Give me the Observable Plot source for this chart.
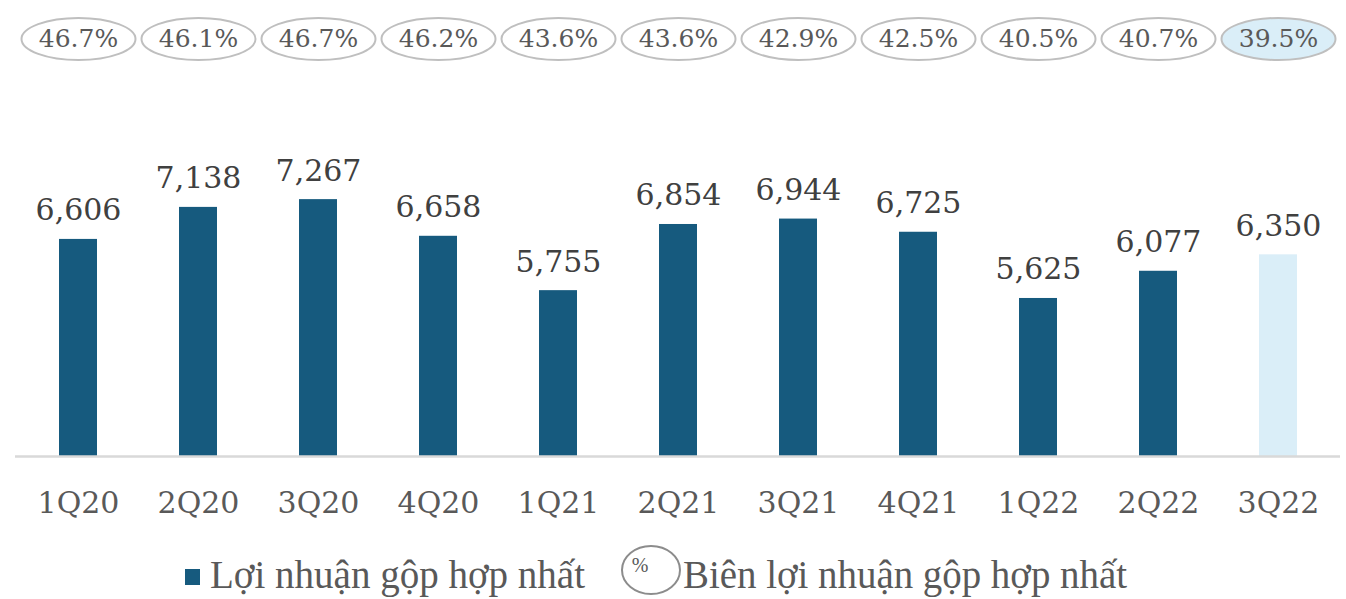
<!DOCTYPE html>
<html>
<head>
<meta charset="utf-8">
<script src="https://cdn.jsdelivr.net/npm/d3@7"></script>
<script src="https://cdn.jsdelivr.net/npm/@observablehq/plot@0.6"></script>
<style>
  html, body { margin: 0; padding: 0; background: #fff; }
  #chart svg { display: block; }
</style>
</head>
<body>
<div id="chart"></div>
<script>
const quarters = ["1Q20","2Q20","3Q20","4Q20","1Q21","2Q21","3Q21","4Q21","1Q22","2Q22","3Q22"];
const grossProfit = [6606, 7138, 7267, 6658, 5755, 6854, 6944, 6725, 5625, 6077, 6350];
const grossMargin = [46.7, 46.1, 46.7, 46.2, 43.6, 43.6, 42.9, 42.5, 40.5, 40.7, 39.5];
const legendLabels = ["Lợi nhuận gộp hợp nhất", "Biên lợi nhuận gộp hợp nhất"];

const DARK = "#165a7e";
const LIGHT = "#daeef8";
const last = quarters.length - 1;
const data = quarters.map((q, i) => ({q, v: grossProfit[i], m: grossMargin[i], i}));
const fmt = d3.format(",");
const FONT = "DejaVu Serif";

// ellipse symbol for margin badges
const RX = 57, RY = 21, K = 0.5523;
const ellipse = {
  draw(ctx) {
    ctx.moveTo(RX, 0);
    ctx.bezierCurveTo(RX, K * RY, K * RX, RY, 0, RY);
    ctx.bezierCurveTo(-K * RX, RY, -RX, K * RY, -RX, 0);
    ctx.bezierCurveTo(-RX, -K * RY, -K * RX, -RY, 0, -RY);
    ctx.bezierCurveTo(K * RX, -RY, RX, -K * RY, RX, 0);
    ctx.closePath();
  }
};

const chart = Plot.plot({
  width: 1346,
  height: 540,
  marginTop: 155,
  marginBottom: 84,
  marginLeft: 15,
  marginRight: 6,
  style: {fontFamily: FONT, background: "#fff"},
  x: {domain: quarters, padding: 0, axis: null},
  y: {domain: [3000, 8000], axis: null},
  color: {type: "identity"},
  marks: [
    Plot.barY(data, {x: "q", y1: 3000, y2: "v", insetLeft: 41, insetRight: 41,
      fill: d => d.i === last ? LIGHT : DARK}),
    Plot.ruleY([3000], {stroke: "#d9d9d9", strokeWidth: 2.5}),
    Plot.text(data, {x: "q", y: "v", text: d => fmt(d.v), dy: -19, lineAnchor: "bottom",
      fontSize: 30, fill: "#404040"}),
    Plot.text(data, {x: "q", y: 3000, text: "q", dy: 47, lineAnchor: "middle",
      fontSize: 30, fill: "#595959"}),
    Plot.dot(data, {x: "q", frameAnchor: "top", dy: -116.5, symbol: ellipse, r: 10,
      stroke: "#bfbfbf", strokeWidth: 2, fill: d => d.i === last ? LIGHT : "#fff"}),
    Plot.text(data, {x: "q", frameAnchor: "top", dy: -116.5, text: d => d.m.toFixed(1) + "%",
      lineAnchor: "middle", fontSize: 25, fill: "#595959"})
  ]
});
document.getElementById("chart").appendChild(chart);

// legend (below the chart svg)
const ns = "http://www.w3.org/2000/svg";
const leg = document.createElementNS(ns, "svg");
leg.setAttribute("width", 1346);
leg.setAttribute("height", 59);
leg.style.display = "block";
leg.innerHTML = `
  <rect x="185" y="29" width="15" height="16" fill="${DARK}"></rect>
  <text x="210" y="48" font-family="Liberation Serif" font-size="40" fill="#595959"
        textLength="375" lengthAdjust="spacingAndGlyphs">${legendLabels[0]}</text>
  <ellipse cx="651" cy="30" rx="29" ry="24" fill="#fff" stroke="#8c8c8c" stroke-width="2"></ellipse>
  <text x="640" y="32" font-family="Liberation Serif" font-size="20" fill="#595959" text-anchor="middle">%</text>
  <text x="683" y="48" font-family="Liberation Serif" font-size="40" fill="#595959"
        textLength="444" lengthAdjust="spacingAndGlyphs">${legendLabels[1]}</text>
`;
document.getElementById("chart").appendChild(leg);
</script>
</body>
</html>
